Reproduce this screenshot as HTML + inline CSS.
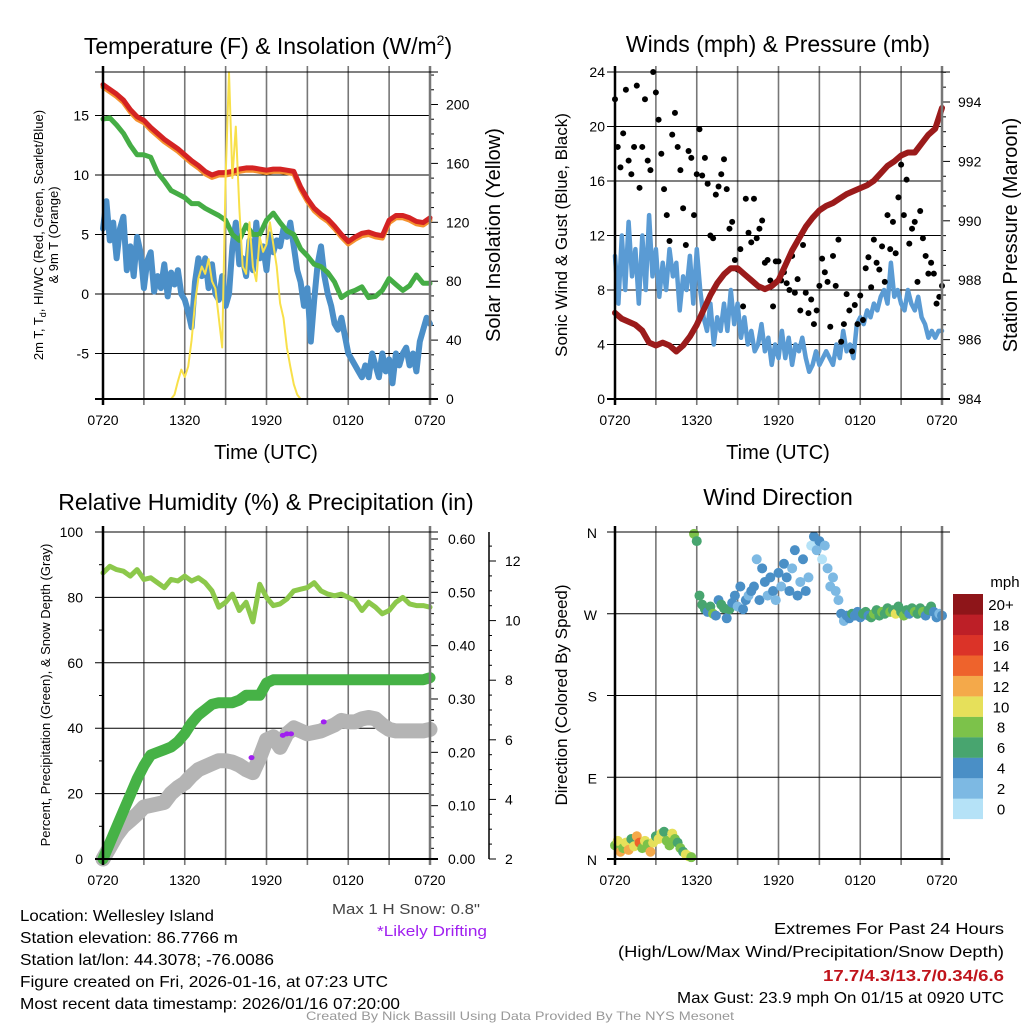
<!DOCTYPE html>
<html><head><meta charset="utf-8"><style>
html,body{margin:0;padding:0;background:#fff;}
svg{display:block;font-family:"Liberation Sans",sans-serif;}
</style></head><body>
<svg id="c" width="1024" height="1024" viewBox="0 0 1024 1024" xmlns="http://www.w3.org/2000/svg"></svg>
<script>
// ---------- data ----------
const xTickLabels=["0720","1320","1920","0120","0720"];
const tempRed=[17.6,17.2,16.8,16.3,15.5,14.9,14.6,14.0,13.5,13.0,12.6,12.2,11.7,11.2,10.8,10.3,10.0,10.2,10.2,10.3,10.5,10.6,10.6,10.5,10.4,10.5,10.5,10.4,10.3,9.0,8.0,7.2,6.7,6.3,5.7,5.0,4.4,4.8,5.1,5.2,5.0,4.9,6.2,6.6,6.6,6.4,6.1,6.0,6.4];
const temp9m=[17.4,17.0,16.6,16.1,15.3,14.7,14.4,13.8,13.3,12.8,12.4,12.0,11.5,11.0,10.6,10.1,9.8,10.0,10.0,10.1,10.3,10.4,10.4,10.3,10.2,10.3,10.3,10.2,10.1,8.8,7.8,7.0,6.5,6.1,5.5,4.8,4.2,4.6,4.9,5.0,4.8,4.7,6.0,6.4,6.4,6.2,5.9,5.8,6.2];
const dewGreen=[14.7,14.8,14.2,13.5,12.5,11.7,11.7,11.5,10.2,9.5,8.7,8.4,8.1,7.6,7.6,7.2,6.9,6.6,6.2,5.0,4.5,5.8,5.0,5.0,6.2,6.8,6.0,5.3,5.0,3.8,3.2,2.5,2.3,1.8,1.0,-0.3,0.1,0.3,0.6,-0.3,-0.2,0.3,1.3,0.8,0.3,0.7,1.6,0.9,0.9];
const windChill=[5.5,7.8,4.5,6.0,3.0,5.5,6.5,2.0, 4.0,1.5,4.8,3.5,0.5,2.8,3.5,0.2, 1.5,0.5,2.5,-0.2,1.8,0.8,2.0,0.0, -0.5,-1.5,-2.8,1.0,3.0,1.5,3.0,0.5, 2.5,0.0,-0.5,1.5,-1.0,0.0,4.0,6.0, 2.5,3.0,1.5,4.5,2.0,6.0,3.0,4.0, 2.0,5.0,3.5,4.5,4.0,5.5,4.8,6.0, 4.0,2.0,1.0,-1.0,0.5,-4.0,-0.5,2.5, 4.0,1.5,0.0,-1.0,-2.5,-3.0,-2.0,-3.5, -5.0,-5.5,-6.0,-6.5,-7.0,-6.0,-7.0,-5.0, -6.0,-7.0,-5.0,-6.5,-5.5,-7.5,-5.0,-6.0, -5.0,-4.5,-6.0,-5.0,-6.5,-4.0,-3.0,-2.0,-2.5];
const insolation=[0,0,0,0,0,0,0,0,0,0,0,0,0,0,0,0,0,0,0,0,0, 3,12,20,15,22,40,65,82,90,85,95,80,75,55,35,150,222,150,185,130,90,85,120,90,80,110,100,105,120,105,90,65,55,35,22,10,3, 0,0,0,0,0,0,0,0,0,0,0,0,0,0,0,0,0,0,0,0,0,0,0,0,0,0,0,0,0,0,0,0,0,0,0,0,0,0,0];
const windSpeed=[10.5,7,12,8,13,9,11,7, 12,8,13.5,9,11,7.5,10,8, 11,9,10,6.5,9,8,10.5,7, 11,8,6,5,7,4,6,5, 7,5,8,5.5,7,4.5,6,4, 5,3.5,4,5.5,3.5,4.5,2.5,4, 3,5,3,4.5,2.5,4,3.5,4.5, 3,2,2.5,3.5,2.5,3,3.5,3, 2.5,4,3,5,3.5,4,3,5.5, 6,5.5,6.5,6,7,6.5,7.5,8, 7,10,7.5,8,7,6.5,8,7, 6.5,7.5,6,5.5,4.5,5,4.5,5,5];
const windGust=[22,18.5,17,19.5,22.7,17.5,16.5,18.5,23,15.5,18.5, 22,17.5,16.8,24,22.5,20.5,18,15.4,13.5,11.6, 19.4,21,18.5,16.8,14,11.3,18.2,17.7,13.5,16.5, 19.8,16.4,17.7,15.8,12,11.8,15,15.6,16.5,17.6, 15.4,12.5,13,10.2,9.5,11,6.8,14.7,12.2,11.5, 14.7,11.8,12.5,13.1,10,10.2,8.7,6.8,10.1,10.1, 8.7,9.3,8.5,8,10.5,7.8,8.8,6.5,11.3,7.8, 6.3,7.3,5.5,6.5,8.3,10.3,9.3,8.6,5.3,10.5, 8.3,11.7,4.2,5.5,7.7,6.5,3.5,6.9,5.5,7.6, 5.8,9.6,10.4,8.2,11.7,10,9.5,11.2,8.6,13.5, 11,13,10.7,14.8,17.2,13.5,16.1,11.4,12.5,13, 8.6,13.8,11.8,10.5,9.2,10,9.2,7,7.5,8.3];
const pressure=[986.9,986.7,986.6,986.5,986.3,985.9,985.8,985.9,985.8,985.6,985.8,986.1,986.5,987.0,987.5,987.9,988.2,988.4,988.4,988.2,988.0,987.8,987.7,987.8,988.0,988.5,989.0,989.4,989.8,990.1,990.35,990.5,990.6,990.75,990.9,991.0,991.1,991.2,991.35,991.6,991.85,992.0,992.2,992.3,992.3,992.6,992.9,993.1,993.8];
const rh=[87.5,89.5,88.5,88,86.5,88.5,85.5,86,84.5,83,85.5,85,86.5,85,86,84.5,82,77,78.5,81,76,78.5,72.5,84,80,77.5,78,79.5,82,82.5,83,84.5,82,81,80.5,81,80,79,76,78.5,77,75,76,78.5,80,78,77.5,77.5,77];
const precip=[0,0.03,0.06,0.09,0.12,0.15,0.175,0.195,0.2,0.205,0.21,0.22,0.235,0.255,0.27,0.28,0.29,0.293,0.293,0.293,0.298,0.307,0.307,0.307,0.33,0.336,0.336,0.336,0.336,0.336,0.336,0.336,0.336,0.336,0.336,0.336,0.336,0.336,0.336,0.336,0.336,0.336,0.336,0.336,0.336,0.336,0.336,0.336,0.34];
const snowDepth=[2.0,2.4,2.8,3.1,3.3,3.5,3.75,3.8,3.85,3.9,4.2,4.4,4.55,4.8,5.0,5.1,5.2,5.3,5.3,5.25,5.15,5.0,4.9,5.4,6.0,6.1,5.75,6.2,6.4,6.3,6.2,6.25,6.3,6.4,6.5,6.65,6.6,6.6,6.7,6.75,6.7,6.5,6.35,6.3,6.3,6.3,6.3,6.3,6.35];
const driftHours=[10.9,13.2,13.5,13.8,16.2];
const driftDepth=[5.4,6.15,6.2,6.2,6.6];
const windDir=[15,20,8,12,18,10,22,14,25,18,12, 20,16,8,18,25,22,28,30,20,15, 28,22,18,12,8,5,3,2,358,350, 290,280,275,272,278,270,268,285,280,276, 265,275,282,290,278,300,275,285,290,295, 300,330,285,320,305,290,310,295,285,315, 300,325,310,295,320,340,290,305,330,295, 310,345,355,340,350,330,345,320,300,310, 295,285,270,262,268,265,270,268,272,266, 270,272,268,266,270,274,268,272,270,276, 272,274,270,278,272,268,274,270,276,272, 270,276,272,268,274,278,272,266,270,268];
const dirSpeed=[8,10,12,9,11,13,7,10,12,15,9, 11,8,13,10,7,10,11,6,9,8, 10,8,7,9,6,10,11,9,8,6, 6,7,6,4,7,8,5,4,6,7, 4,6,5,4,3,5,4,4,3,4, 4,3,4,5,4,3,4,5,3,4, 3,4,5,4,3,4,5,2,4,4, 2,1.5,5,2,4,1.5,2,3,2,2.5, 2,3,4,3,5,4,6,5,4,5, 7,6,5,6,8,7,6,9,7,6, 8,7,10,6,7,8,6,5,7,8, 6,7,8,5,6,7,4,5,3,4];
const speedColors=["#b5e2f7","#7db9e3","#4a8fc6","#48a56f","#7cc24a","#e6e05a","#f4a94a","#ee632c","#db3328","#bd1f27","#8e1519"];
const speedLabels=["0","2","4","6","8","10","12","14","16","18","20+"];

// ---------- helpers ----------
const svg=document.getElementById('c');
const NS="http://www.w3.org/2000/svg";
function mk(tag,attrs,parent){const e=document.createElementNS(NS,tag);for(const k in attrs)e.setAttribute(k,attrs[k]);(parent||svg).appendChild(e);return e;}
function txt(x,y,s,size,anchor,parent,extra){const t=mk('text',Object.assign({x:x,y:y,'font-size':size,'text-anchor':anchor||'middle',fill:'#000'},extra||{}),parent);t.textContent=s;return t;}
function sx(p,h){return p.x0+h*(p.x1-p.x0)/24;}
function lin(v,v0,v1,y0,y1){return y0+(v-v0)*(y1-y0)/(v1-v0);}
function path(pts,parent,stroke,w){const d=pts.map((p,i)=>(i?'L':'M')+p[0].toFixed(1)+' '+p[1].toFixed(1)).join(' ');return mk('path',{d:d,fill:'none',stroke:stroke,'stroke-width':w,'stroke-linejoin':'round','stroke-linecap':'round'},parent);}
function frame(p,g,hLines){
  for(let i=1;i<8;i++){const x=p.x0+i*(p.x1-p.x0)/8;mk('line',{x1:x,y1:p.y0-6,x2:x,y2:p.y1+6,stroke:'#777','stroke-width':1.6},g);}
  hLines.forEach(y=>mk('line',{x1:p.x0-8,y1:y,x2:p.x1,y2:y,stroke:'#000','stroke-width':1},g));
}
function border(p,g){
  mk('line',{x1:p.x0,y1:p.y0-6,x2:p.x0,y2:p.y1+6,stroke:'#000','stroke-width':2.5},g);
  mk('line',{x1:p.x1,y1:p.y0-6,x2:p.x1,y2:p.y1+6,stroke:'#777','stroke-width':2.5},g);
  mk('line',{x1:p.x0-8,y1:p.y0,x2:p.x1+8,y2:p.y0,stroke:'#000','stroke-width':1},g);
  mk('line',{x1:p.x0-8,y1:p.y1,x2:p.x1+8,y2:p.y1,stroke:'#000','stroke-width':2},g);
  xTickLabels.forEach((s,i)=>txt(p.x0+i*(p.x1-p.x0)/4,p.y1+26,s,14,'middle',g));
}
function series(arr,step){return arr.map((v,i)=>[i*step,v]);}

// ---------- panel 1: temperature ----------
const P1={x0:103,x1:430,y0:72,y1:399};
const g1=mk('g',{});


const tY=v=>lin(v,0,15,294,115.5);
const iY=v=>lin(v,0,200,399,104.5);
frame(P1,g1,[-5,0,5,10,15].map(tY));
[-5,0,5,10,15].forEach(v=>txt(P1.x0-14,tY(v)+5,String(v),14,'end',g1));
for(let v=0;v<=220;v+=10){const y=iY(v);mk('line',{x1:P1.x1,y1:y,x2:P1.x1+(v%40==0?8:4),y2:y,stroke:'#000','stroke-width':1},g1);}
[0,40,80,120,160,200].forEach(v=>txt(P1.x1+16,iY(v)+5,String(v),14,'start',g1));
let s;
s=path(series(windChill,0.25).map(p=>[sx(P1,p[0]),tY(p[1])]),g1,'#4b8fc8',6);

s=path(series(dewGreen,0.5).map(p=>[sx(P1,p[0]),tY(p[1])]),g1,'#45ad45',5);

s=path(series(temp9m,0.5).map(p=>[sx(P1,p[0]),tY(p[1])]),g1,'#f5922f',5);

s=path(series(tempRed,0.5).map(p=>[sx(P1,p[0]),tY(p[1])]),g1,'#d42323',5);

s=path(series(insolation,0.25).map(p=>[sx(P1,p[0]),iY(p[1])]),g1,'#f8e04a',2);

border(P1,g1);
const t1=mk('text',{x:268,y:54,'font-size':23,'text-anchor':'middle'},g1);
t1.innerHTML='Temperature (F) &amp; Insolation (W/m<tspan dy="-9" font-size="14">2</tspan><tspan dy="9">)</tspan>';


let yl=txt(0,0,'2m T, T',13,'middle',g1,{transform:'translate(43,235) rotate(-90)'});
yl.innerHTML='2m T, T<tspan dy="3" font-size="9">d</tspan><tspan dy="-3">, HI/WC (Red, Green, Scarlet/Blue)</tspan>';

txt(0,0,'& 9m T (Orange)',13,'middle',g1,{transform:'translate(58,235) rotate(-90)'});
s=txt(0,0,'Solar Insolation (Yellow)',20,'middle',g1,{transform:'translate(500,235) rotate(-90)'});

s=txt(266,459,'Time (UTC)',20,'middle',g1);


// ---------- panel 2: winds ----------
const P2={x0:615,x1:942,y0:72,y1:399};
const g2=mk('g',{});


const wY=v=>lin(v,0,24,399,72);
const pY=v=>lin(v,984,994,399,102);
frame(P2,g2,[4,8,12,16,20,24].map(wY));
[0,4,8,12,16,20,24].forEach(v=>txt(P2.x0-10,wY(v)+5,String(v),14,'end',g2));
for(let v=984;v<=995;v+=0.5){const y=pY(v);mk('line',{x1:P2.x1,y1:y,x2:P2.x1+(v%2==0?8:4),y2:y,stroke:'#000','stroke-width':1},g2);}
[984,986,988,990,992,994].forEach(v=>txt(P2.x1+16,pY(v)+5,String(v),14,'start',g2));
s=path(series(windSpeed,0.25).map(p=>[sx(P2,p[0]),wY(p[1])]),g2,'#5a9bd4',4.5);

windGust.forEach((v,i)=>{const c=mk('circle',{cx:sx(P2,i*0.2),cy:wY(v),r:3,fill:'#000'},g2);

});
s=path(series(pressure,0.5).map(p=>[sx(P2,p[0]),pY(p[1])]),g2,'#9b1b1b',6);

border(P2,g2);
s=txt(778,52,'Winds (mph) & Pressure (mb)',23,'middle',g2);

s=txt(0,0,'Sonic Wind & Gust (Blue, Black)',17,'middle',g2,{transform:'translate(567,235) rotate(-90)'});

s=txt(0,0,'Station Pressure (Maroon)',20,'middle',g2,{transform:'translate(1017,235) rotate(-90)'});

s=txt(778,459,'Time (UTC)',20,'middle',g2);


// ---------- panel 3: RH & precip ----------
const P3={x0:103,x1:430,y0:532,y1:859};
const g3=mk('g',{});


const rY=v=>lin(v,0,100,859,532);
const prY=v=>lin(v,0,0.6,859,539);
const sdY=v=>lin(v,2,12,859,561);
frame(P3,g3,[20,40,60,80].map(rY));
[0,20,40,60,80,100].forEach(v=>txt(P3.x0-20,rY(v)+5,String(v),14,'end',g3));
for(let v=10;v<=90;v+=20)mk('line',{x1:P3.x0-4,y1:rY(v),x2:P3.x0,y2:rY(v),stroke:'#000'},g3);
for(let v=0;v<=0.605;v+=0.02){const y=prY(v);const maj=Math.round(v*100)%10==0;mk('line',{x1:P3.x1,y1:y,x2:P3.x1+(maj?8:4),y2:y,stroke:'#000','stroke-width':1},g3);}
[0,0.1,0.2,0.3,0.4,0.5,0.6].forEach(v=>txt(P3.x1+18,prY(v)+5,v.toFixed(2),14,'start',g3));
mk('line',{x1:489,y1:532,x2:489,y2:859,stroke:'#000','stroke-width':1.5},g3);
for(let v=2;v<=12.9;v+=0.5){const y=sdY(v);mk('line',{x1:489,y1:y,x2:489+(v%2==0?7:3),y2:y,stroke:'#000'},g3);}
[2,4,6,8,10,12].forEach(v=>txt(505,sdY(v)+5,String(v),14,'start',g3));
s=path(series(snowDepth,0.5).map(p=>[sx(P3,p[0]),sdY(p[1])]),g3,'#b4b4b4',15);

driftHours.forEach((h,i)=>{const c=mk('ellipse',{cx:sx(P3,h),cy:sdY(driftDepth[i]),rx:3,ry:2.5,fill:'#a020f0'},g3);

});
s=path(series(precip,0.5).map(p=>[sx(P3,p[0]),prY(p[1])]),g3,'#46b246',11);

s=path(series(rh,0.5).map(p=>[sx(P3,p[0]),rY(p[1])]),g3,'#8cc84b',5);

border(P3,g3);
s=txt(266,510,'Relative Humidity (%) & Precipitation (in)',23,'middle',g3);

s=txt(0,0,'Percent, Precipitation (Green), & Snow Depth (Gray)',13,'middle',g3,{transform:'translate(50,695) rotate(-90)'});


// ---------- panel 4: wind direction ----------
const P4={x0:615,x1:942,y0:532,y1:859};
const g4=mk('g',{});


const dY=v=>lin(v,0,360,859,532);
frame(P4,g4,[90,180,270].map(dY));
[[0,'N'],[90,'E'],[180,'S'],[270,'W'],[360,'N']].forEach(a=>txt(P4.x0-18,dY(a[0])+6,a[1],14,'end',g4));
windDir.forEach((d,i)=>{const b=Math.min(10,Math.floor(dirSpeed[i]/2));
const c=mk('circle',{cx:sx(P4,i*0.2),cy:dY(d),r:5,fill:speedColors[b]},g4);

});
border(P4,g4);
s=txt(778,505,'Wind Direction',23,'middle',g4);

s=txt(0,0,'Direction (Colored By Speed)',17,'middle',g4,{transform:'translate(567,695) rotate(-90)'});

const cb=mk('g',{},g4);


speedColors.forEach((c,i)=>{const y=594+(10-i)*20.45;mk('rect',{x:953,y:y,width:30,height:20.6,fill:c},cb);
txt(1001,y+16,speedLabels[i],15,'middle',cb);});
txt(1005,587,'mph',15,'middle',cb);

// ---------- footer text ----------
const lines=["Location: Wellesley Island","Station elevation: 86.7766 m","Station lat/lon: 44.3078; -76.0086","Figure created on Fri, 2026-01-16, at 07:23 UTC","Most recent data timestamp: 2026/01/16 07:20:00"];
const lw=[194,218,254,368,380];
lines.forEach((l,i)=>{const t=txt(20,921+i*22,l,16,'start',svg,{textLength:lw[i],lengthAdjust:'spacingAndGlyphs'});

});
s=txt(480,914,'Max 1 H Snow: 0.8"',15,'end',svg,{fill:'#444',textLength:148,lengthAdjust:'spacingAndGlyphs'});

s=txt(487,936,'*Likely Drifting',15,'end',svg,{fill:'#a020f0',textLength:110,lengthAdjust:'spacingAndGlyphs'});

s=txt(1004,934,'Extremes For Past 24 Hours',16,'end',svg,{textLength:230,lengthAdjust:'spacingAndGlyphs'});

s=txt(1004,957,'(High/Low/Max Wind/Precipitation/Snow Depth)',16,'end',svg,{textLength:386,lengthAdjust:'spacingAndGlyphs'});

s=txt(1004,981,'17.7/4.3/13.7/0.34/6.6',16,'end',svg,{fill:'#c0141c','font-weight':'bold',textLength:181,lengthAdjust:'spacingAndGlyphs'});

s=txt(1004,1003,'Max Gust: 23.9 mph On 01/15 at 0920 UTC',16,'end',svg,{textLength:327,lengthAdjust:'spacingAndGlyphs'});

s=txt(520,1020,'Created By Nick Bassill Using Data Provided By The NYS Mesonet',12,'middle',svg,{fill:'#999',textLength:428,lengthAdjust:'spacingAndGlyphs'});

</script>
</body></html>
